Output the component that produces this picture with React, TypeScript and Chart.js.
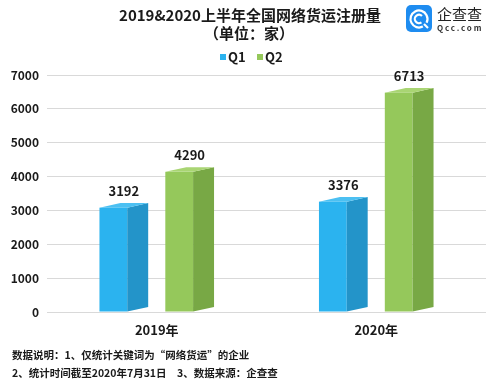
import React, { useEffect, useRef } from "react";
import { Chart, registerables } from "chart.js";

Chart.register(...registerables);

const categories = ["2019年", "2020年"];
const seriesNames = ["Q1", "Q2"];
const q1Values = [3192, 3376];
const q2Values = [4290, 6713];
const yTicks = [0, 1000, 2000, 3000, 4000, 5000, 6000, 7000];
const titleLines = ["2019&2020上半年全国网络货运注册量", "（单位：家）"];
const footnotes = [
  "数据说明：1、仅统计关键词为“网络货运”的企业",
  "2、统计时间截至2020年7月31日",
  "3、数据来源：企查查",
];

const FONT = '"Noto Sans CJK SC", "Noto Sans", sans-serif';
const palettes = [
  { front: "#2bb3ef", side: "#2394c9", top: "#4cc0f2" },
  { front: "#95c85b", side: "#78a845", top: "#a9d573" },
];

const box3d = {
  id: "box3d",
  afterDatasetsDraw(chart: any) {
    const ctx = chart.ctx;
    chart.data.datasets.forEach((ds: any, di: number) => {
      const meta = chart.getDatasetMeta(di);
      const pal = palettes[di];
      meta.data.forEach((el: any, i: number) => {
        const { x, y, base, width } = el.getProps(["x", "y", "base", "width"], true);
        const left = x - width / 2;
        const frontW = width * 0.57;
        const depth = width - frontW;
        const dy = depth * 0.22;
        const top = base - (base - y) * 0.965;
        ctx.save();
        ctx.fillStyle = pal.front;
        ctx.fillRect(left, top, frontW, base - top);
        ctx.fillStyle = pal.side;
        ctx.beginPath();
        ctx.moveTo(left + frontW, top);
        ctx.lineTo(left + width, top - dy);
        ctx.lineTo(left + width, base - dy);
        ctx.lineTo(left + frontW, base);
        ctx.closePath();
        ctx.fill();
        ctx.fillStyle = pal.top;
        ctx.beginPath();
        ctx.moveTo(left, top);
        ctx.lineTo(left + depth, top - dy);
        ctx.lineTo(left + width, top - dy);
        ctx.lineTo(left + frontW, top);
        ctx.closePath();
        ctx.fill();
        ctx.fillStyle = "#1a1a1a";
        ctx.font = `bold 13px ${FONT}`;
        ctx.textAlign = "center";
        ctx.textBaseline = "middle";
        ctx.fillText(String(ds.data[i]), x, top - dy - 12);
        ctx.restore();
      });
    });
  },
};

const decorations = {
  id: "decorations",
  afterDraw(chart: any) {
    const ctx = chart.ctx;
    ctx.save();
    ctx.fillStyle = "#1a1a1a";
    ctx.textAlign = "center";
    ctx.textBaseline = "middle";
    ctx.font = `bold 15px ${FONT}`;
    ctx.fillText(titleLines[0], 250, 15);
    ctx.fillText(titleLines[1], 249, 33);

    ctx.font = `bold 13px ${FONT}`;
    ctx.textAlign = "left";
    const legendX = [220, 257];
    seriesNames.forEach((name, i) => {
      ctx.fillStyle = palettes[i].front;
      ctx.fillRect(legendX[i], 54, 6, 6);
      ctx.fillStyle = "#1a1a1a";
      ctx.fillText(name, legendX[i] + 8, 57);
    });

    ctx.font = `bold 10.5px ${FONT}`;
    ctx.fillStyle = "#1a1a1a";
    ctx.fillText(footnotes[0], 12, 355);
    ctx.fillText(footnotes[1], 12, 373);
    ctx.fillText(footnotes[2], 177, 373);

    const lx = 406, ly = 5, ls = 26;
    ctx.fillStyle = "#1e8cf0";
    ctx.beginPath();
    (ctx as any).roundRect(lx, ly, ls, ls + 1, 5);
    ctx.fill();
    ctx.strokeStyle = "#ffffff";
    ctx.lineWidth = 2.2;
    ctx.beginPath();
    ctx.arc(lx + 13, ly + 14, 8.5, 0.35 * Math.PI, 2.15 * Math.PI);
    ctx.stroke();
    ctx.beginPath();
    ctx.arc(lx + 13, ly + 14, 4.2, 0.3 * Math.PI, 1.75 * Math.PI);
    ctx.stroke();
    ctx.beginPath();
    ctx.moveTo(lx + 18, ly + 19);
    ctx.lineTo(lx + 22, ly + 23);
    ctx.stroke();
    ctx.fillStyle = "#222222";
    ctx.font = `15px ${FONT}`;
    ctx.fillText("企查查", 437, 14);
    ctx.font = `bold 8px ${FONT}`;
    (ctx as any).letterSpacing = "1.8px";
    ctx.fillStyle = "#333333";
    ctx.fillText("Qcc.com", 437, 28);
    ctx.restore();
  },
};

export default function App() {
  const ref = useRef<HTMLCanvasElement>(null);
  useEffect(() => {
    if (!ref.current) return;
    const chart = new Chart(ref.current, {
      type: "bar",
      data: {
        labels: categories,
        datasets: [
          { label: seriesNames[0], data: q1Values, backgroundColor: "rgba(0,0,0,0)" },
          { label: seriesNames[1], data: q2Values, backgroundColor: "rgba(0,0,0,0)" },
        ],
      },
      options: {
        responsive: false,
        animation: false,
        layout: { padding: { top: 75, right: 13, left: 0, bottom: 0 } },
        datasets: { bar: { categoryPercentage: 0.6, barPercentage: 0.74 } },
        plugins: {
          legend: { display: false },
          title: { display: false },
          tooltip: { enabled: false },
        },
        scales: {
          x: {
            grid: { display: false, drawTicks: false },
            border: { display: false },
            ticks: { font: { family: FONT, size: 13, weight: "bold" }, color: "#1a1a1a", padding: 10 },
            afterFit: (s: any) => { s.height = 79; },
          },
          y: {
            min: 0,
            max: 7000,
            afterBuildTicks: (s: any) => { s.ticks = yTicks.map((v) => ({ value: v })); },
            grid: { color: "#d9d9d9", drawTicks: false },
            border: { display: false },
            ticks: {
              font: { family: FONT, size: 12, weight: "bold" },
              color: "#1a1a1a",
              padding: 8,
              callback: (v: any) => String(v),
            },
            afterFit: (s: any) => { s.width = 47; },
          },
        },
      },
      plugins: [box3d, decorations],
    });
    return () => chart.destroy();
  }, []);
  return (
    <div style={{ position: "fixed", left: 0, top: 0, width: 499, height: 391, background: "#fff" }}>
      <canvas ref={ref} width={499} height={391} />
    </div>
  );
}
